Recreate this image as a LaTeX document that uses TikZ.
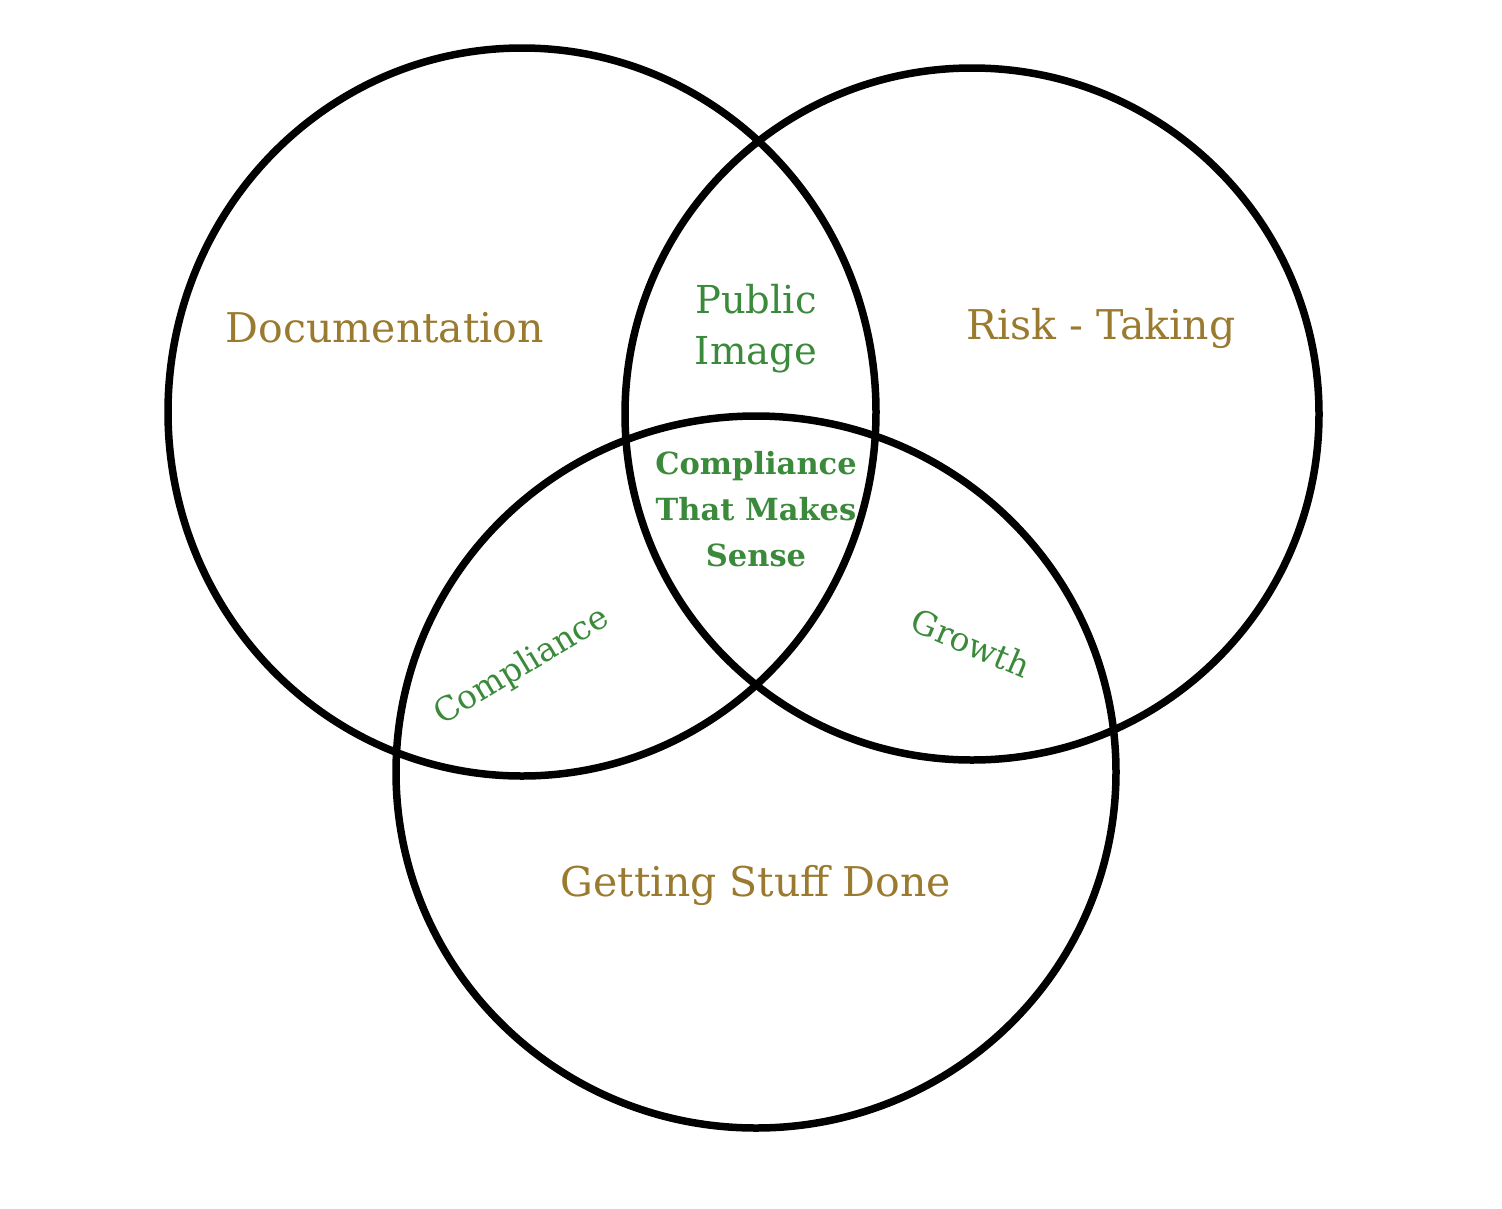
\documentclass[tikz,border=0pt]{standalone}
\usepackage{fontspec}
\setmainfont{DejaVu Serif}
\usetikzlibrary{positioning}

\definecolor{setgold}{HTML}{9A7A2F}
\definecolor{lapgreen}{HTML}{3B8A3B}

\begin{document}
\begin{tikzpicture}[x=1pt, y=-1pt,
        ring/.style={draw=black, line width=7.5pt},
        setlabel/.style={text=setgold, font=\fontsize{41}{51}\selectfont, align=center, inner sep=0pt},
        pairlabel/.style={text=lapgreen, font=\fontsize{38.5}{51}\selectfont, align=center, inner sep=0pt},
        sidelabel/.style={text=lapgreen, font=\fontsize{33}{40}\selectfont, inner sep=0pt},
        corelabel/.style={text=lapgreen, font=\bfseries\fontsize{30.5}{46}\selectfont, align=center, inner sep=0pt}
    ]
    \useasboundingbox (0,0) rectangle (1502,1208);

    % the three sets
    \coordinate (docc) at (522,412);
    \coordinate (riskc) at (972,414);
    \coordinate (donec) at (756,772);
    \draw[ring] (docc) ellipse [x radius=354pt, y radius=364pt];
    \draw[ring] (riskc) ellipse [x radius=347pt, y radius=346pt];
    \draw[ring] (donec) ellipse [x radius=360pt, y radius=356pt];

    % set names
    \node[setlabel] (doc) at (385,328) {Documentation};
    \node[setlabel] (risk) at (1101,328) {Risk - Taking};
    \node[setlabel] (done) at (756,885) {Getting Stuff Done};

    % overlaps
    \node[pairlabel] (image) at (756,329) {Public\\Image};
    \node[sidelabel, rotate=31] (compl) at (522,667) {Compliance};
    \node[sidelabel, rotate=-23] (growth) at (971,643) {Growth};
    \node[corelabel] (sense) at (756,509) {Compliance\\That Makes\\Sense};

\end{tikzpicture}
\end{document}
